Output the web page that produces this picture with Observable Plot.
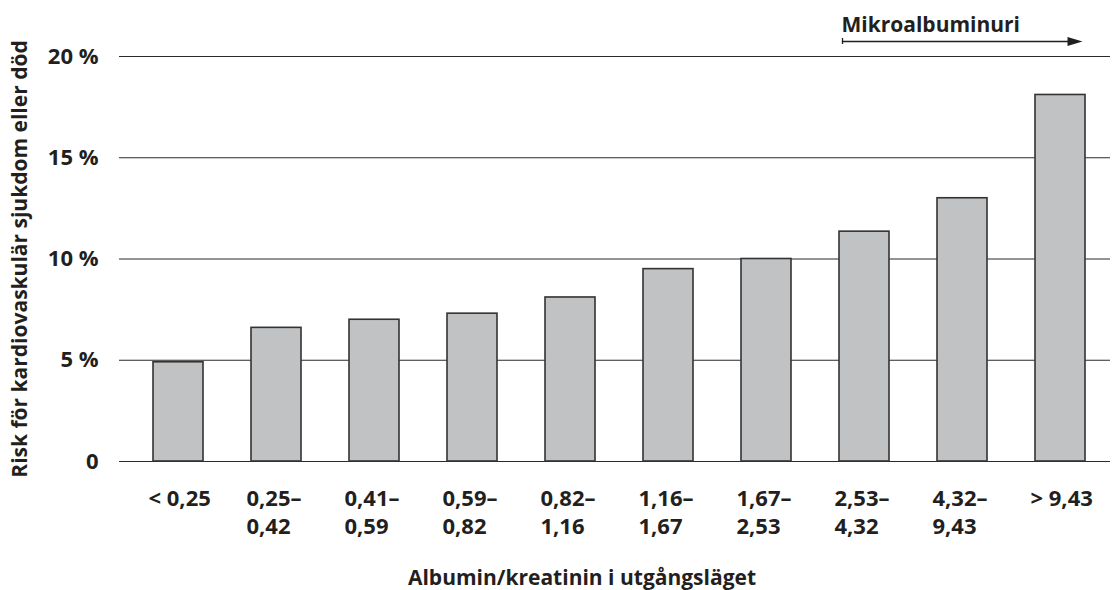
<!DOCTYPE html>
<html><head><meta charset="utf-8">
<script src="https://cdn.jsdelivr.net/npm/d3@7"></script>
<script src="https://cdn.jsdelivr.net/npm/@observablehq/plot@0.6"></script>
<style>
html,body{margin:0;padding:0;background:#fff;}
#chart svg{display:block;}
</style></head><body><div id="chart"></div>
<script>
const categories = ["< 0,25","0,25–\n0,42","0,41–\n0,59","0,59–\n0,82","0,82–\n1,16","1,16–\n1,67","1,67–\n2,53","2,53–\n4,32","4,32–\n9,43","> 9,43"];
const risk = [4.9, 6.6, 7.0, 7.3, 8.1, 9.5, 10.0, 11.35, 13.0, 18.1];
const yTicks = [0, 5, 10, 15, 20];
const yTickLabels = ["0", "5 %", "10 %", "15 %", "20 %"];
const yTitle = "Risk för kardiovaskulär sjukdom eller död";
const xTitle = "Albumin/kreatinin i utgångsläget";
const annotation = "Mikroalbuminuri";
const annotationFrom = categories[7];
const annotationTo = categories[9];
const annotationLevel = 20;

const table = categories.map((c, i) => ({category: c, risk: risk[i]}));
const ink = "#231f20";

let head;
try {
  head = Plot.vector([0], {x: () => annotationTo, y: () => annotationLevel, dx: 22, dy: -15, rotate: 90, length: 15, r: 4.5, shape: "spike", anchor: "end", fill: ink, stroke: "none"});
} catch (e) {
  head = Plot.dot([0], {x: () => annotationTo, y: () => annotationLevel, dx: 17, dy: -15, symbol: "triangle", rotate: 90, r: 5, fill: ink, stroke: "none"});
}

const chart = Plot.plot({
  width: 1114, height: 590,
  marginTop: 56, marginBottom: 129, marginLeft: 127, marginRight: 4,
  style: {fontFamily: "'Open Sans', sans-serif", fontSize: "21px", color: ink, background: "#fff"},
  x: {domain: categories, axis: null, paddingInner: 0.49, paddingOuter: 0.245},
  y: {domain: [0, 20], axis: null},
  marks: [
    Plot.ruleY(yTicks, {y: d => d, stroke: "#2b2b2b", strokeWidth: 1.2, insetLeft: -8}),
    Plot.barY(table, {x: "category", y: "risk", fill: "#c1c2c4", stroke: "#333", strokeWidth: 1.6}),
    Plot.text(yTicks, {y: d => d, text: (d, i) => yTickLabels[i], frameAnchor: "left", textAnchor: "end", dx: -29, fontSize: 22, fontWeight: 700, fill: ink}),
    Plot.text(categories, {x: d => d, text: d => d, frameAnchor: "bottom", textAnchor: "start", lineAnchor: "top", dx: -30, dy: 24, lineHeight: 1.3, fontSize: 22, fontWeight: 700, fill: ink}),
    Plot.text([yTitle], {text: d => d, frameAnchor: "left", textAnchor: "middle", lineAnchor: "middle", rotate: -90, dx: -107, fontWeight: 700, fill: ink}),
    Plot.text([xTitle], {text: d => d, frameAnchor: "bottom", textAnchor: "middle", lineAnchor: "middle", dx: -37, dy: 117, fontWeight: 700, fill: ink}),
    Plot.text([annotation], {x: () => annotationFrom, text: d => d, frameAnchor: "top", textAnchor: "start", lineAnchor: "middle", dx: -23, dy: -31, fontWeight: 700, fill: ink}),
    Plot.arrow([0], {x1: () => annotationFrom, x2: () => annotationTo, y1: () => annotationLevel, y2: () => annotationLevel, dy: -15, insetStart: -22, insetEnd: -12, headLength: 0, stroke: ink, strokeWidth: 1.3}),
    head,
    Plot.ruleX([annotationFrom], {x: d => d, y1: () => annotationLevel, y2: () => annotationLevel, insetTop: -3, insetBottom: -3, dx: -22, dy: -15, stroke: ink, strokeWidth: 1.3})
  ]
});
document.getElementById("chart").appendChild(chart);
</script>
</body></html>
